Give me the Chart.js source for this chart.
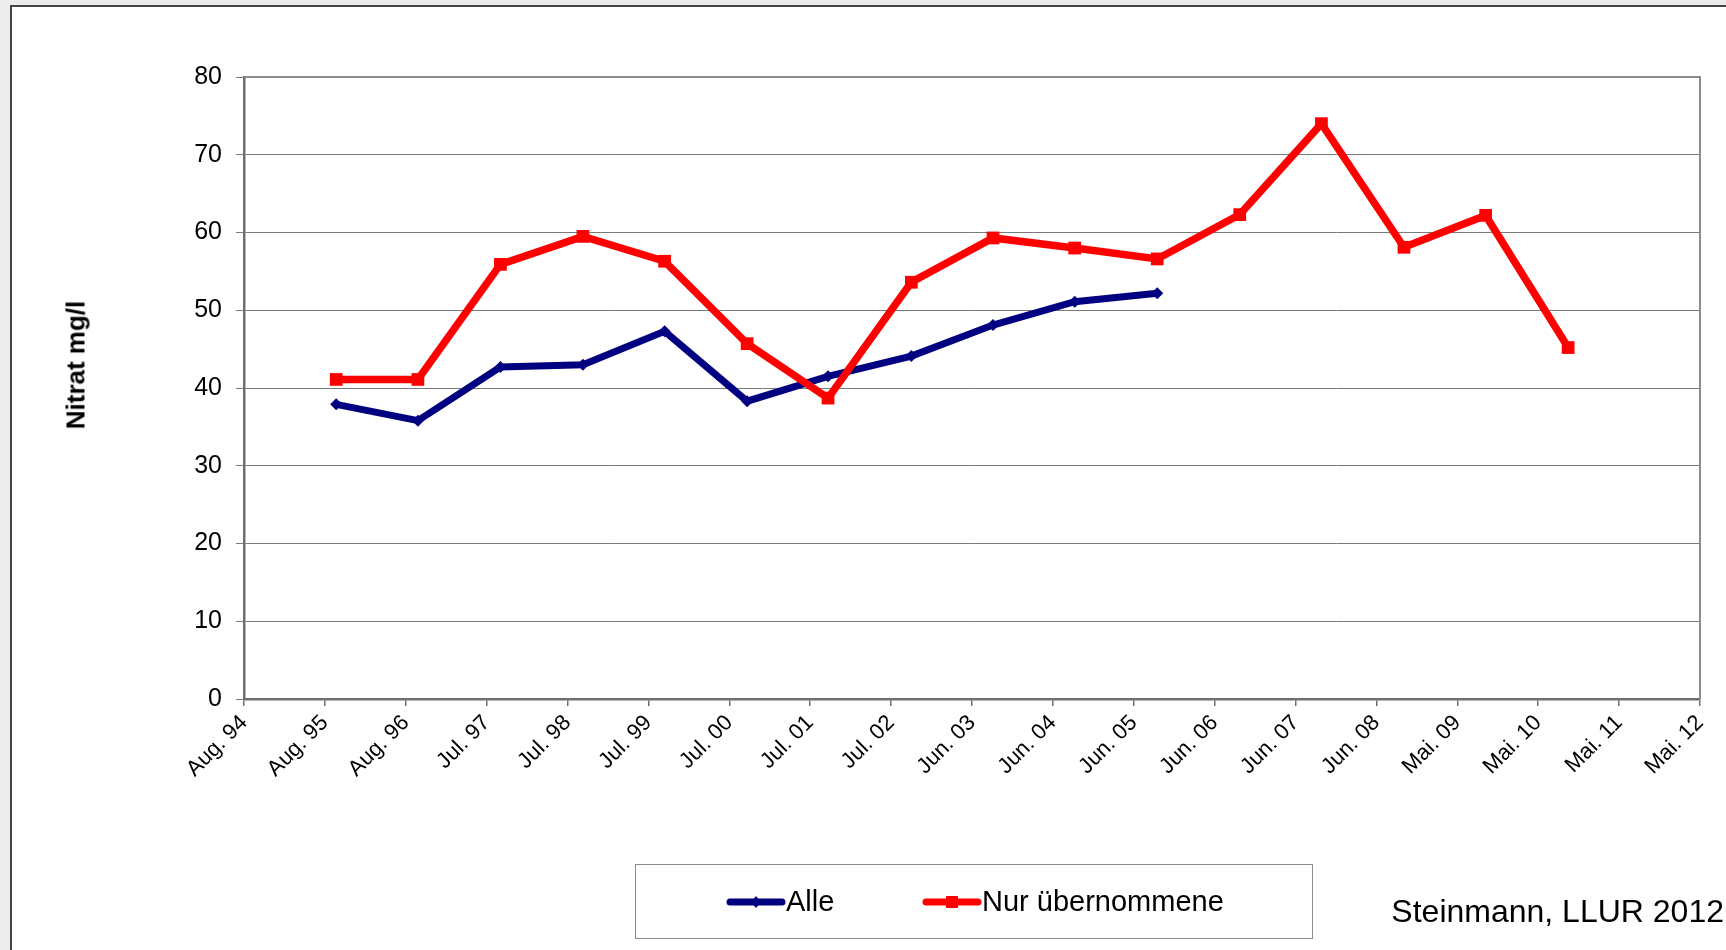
<!DOCTYPE html>
<html>
<head>
<meta charset="utf-8">
<script src="https://cdn.jsdelivr.net/npm/chart.js@4.4.1/dist/chart.umd.min.js"></script>
<style>
  body { margin: 0; background: #ececec; width: 1726px; height: 950px; overflow: hidden; position: relative; font-family: "Liberation Sans", Arial, sans-serif; }
  #frame { position: absolute; left: 10px; top: 5px; width: 1730px; height: 960px; background: #fff; border-left: 2px solid #444; border-top: 2px solid #444; }
  #box { position: absolute; left: 0; top: 0; width: 1726px; height: 950px; }
  #ytitle { position: absolute; left: 76px; top: 365px; transform: translate(-50%, -50%) rotate(-90deg); font-weight: bold; font-size: 26px; white-space: nowrap; }
  #legend { position: absolute; left: 635px; top: 864px; width: 676px; height: 73px; border: 1px solid #8c8c8c; }
  .item { position: absolute; top: 0; height: 73px; display: flex; align-items: center; font-size: 29px; }
  #source { position: absolute; right: 2px; top: 893px; font-size: 32px; white-space: nowrap; }
</style>
</head>
<body>
<div id="frame"></div>
<div id="box"><canvas id="myChart"></canvas></div>
<div id="ytitle">Nitrat mg/l</div>
<div id="legend">
  <div class="item" style="left:90px"><svg width="60" height="14"><line x1="4" y1="7" x2="56" y2="7" stroke="#000080" stroke-width="7" stroke-linecap="round"/><polygon points="30,1 35,7 30,13 25,7" fill="#000080"/></svg><span>Alle</span></div>
  <div class="item" style="left:286px"><svg width="60" height="14"><line x1="4" y1="7" x2="56" y2="7" stroke="#ff0000" stroke-width="7" stroke-linecap="round"/><rect x="24" y="1" width="12" height="12" fill="#ff0000"/></svg><span>Nur übernommene</span></div>
</div>
<div id="source">Steinmann, LLUR 2012</div>
<script>
// tick labels of the date axis (one per year, starting Aug. 94)
const tickLabels = ['Aug. 94', 'Aug. 95', 'Aug. 96', 'Jul. 97', 'Jul. 98', 'Jul. 99', 'Jul. 00', 'Jul. 01', 'Jul. 02',
    'Jun. 03', 'Jun. 04', 'Jun. 05', 'Jun. 06', 'Jun. 07', 'Jun. 08', 'Mai. 09', 'Mai. 10', 'Mai. 11', 'Mai. 12'];

// sampling dates, in years after Aug. 94
const sampleYears = [1.14, 2.15, 3.17, 4.19, 5.20, 6.22, 7.22, 8.25, 9.26, 10.27, 11.29, 12.31, 13.32, 14.34, 15.35, 16.37];

const alleValues = [37.9, 35.8, 42.7, 43.0, 47.3, 38.3, 41.5, 44.1, 48.1, 51.1, 52.2];
const nurValues = [41.1, 41.1, 55.9, 59.5, 56.3, 45.7, 38.7, 53.6, 59.3, 58.0, 56.6, 62.3, 74.0, 58.1, 62.2, 45.2];

const toPoints = (vals) => vals.map((v, i) => ({ x: sampleYears[i], y: v }));

// draws the top and right edge of the plot area
const plotFrame = {
    id: 'plotFrame',
    afterDraw(chart) {
        const { ctx, chartArea } = chart;
        ctx.save();
        ctx.strokeStyle = '#8c8c8c';
        ctx.lineWidth = 2;
        ctx.beginPath();
        ctx.moveTo(chartArea.left, chartArea.top);
        ctx.lineTo(chartArea.right, chartArea.top);
        ctx.lineTo(chartArea.right, chartArea.bottom);
        ctx.stroke();
        ctx.restore();
    }
};

Chart.defaults.font.family = '"Liberation Sans", Arial, sans-serif';
Chart.defaults.color = '#000';

const ctx = document.getElementById('myChart').getContext('2d');

const myChart = new Chart(ctx, {
    type: 'line',
    data: {
        datasets: [{
            label: 'Alle',
            data: toPoints(alleValues),
            borderColor: '#000080',
            backgroundColor: '#000080',
            borderWidth: 7,
            pointStyle: 'rectRot',
            pointRadius: 6,
            pointBorderWidth: 0,
            order: 2
        }, {
            label: 'Nur übernommene',
            data: toPoints(nurValues),
            borderColor: '#ff0000',
            backgroundColor: '#ff0000',
            borderWidth: 7.5,
            pointStyle: 'rect',
            pointRadius: 9,
            pointBorderWidth: 0,
            order: 1
        }]
    },
    options: {
        responsive: true,
        maintainAspectRatio: false,
        animation: false,
        layout: { padding: { top: 77, right: 26, left: 0, bottom: 0 } },
        plugins: {
            legend: { display: false },
            tooltip: { enabled: false }
        },
        scales: {
            x: {
                type: 'linear',
                min: 0,
                max: 18,
                afterFit: (scale) => { scale.height = 251; },
                border: { color: '#6e6e6e', width: 2.5 },
                grid: { drawOnChartArea: false, drawTicks: true, tickLength: 7, color: '#6e6e6e', lineWidth: 1.5 },
                ticks: {
                    stepSize: 1,
                    autoSkip: false,
                    maxRotation: 45,
                    minRotation: 45,
                    padding: 4,
                    font: { size: 22 },
                    callback: (value) => tickLabels[value] ?? ''
                }
            },
            y: {
                min: 0,
                max: 80,
                afterFit: (scale) => { scale.width = 244; },
                border: { color: '#6e6e6e', width: 2.5 },
                grid: { color: '#7a7a7a', lineWidth: 1, tickLength: 8 },
                ticks: { stepSize: 10, padding: 14, font: { size: 25 } }
            }
        }
    },
    plugins: [plotFrame]
});
</script>
</body>
</html>
